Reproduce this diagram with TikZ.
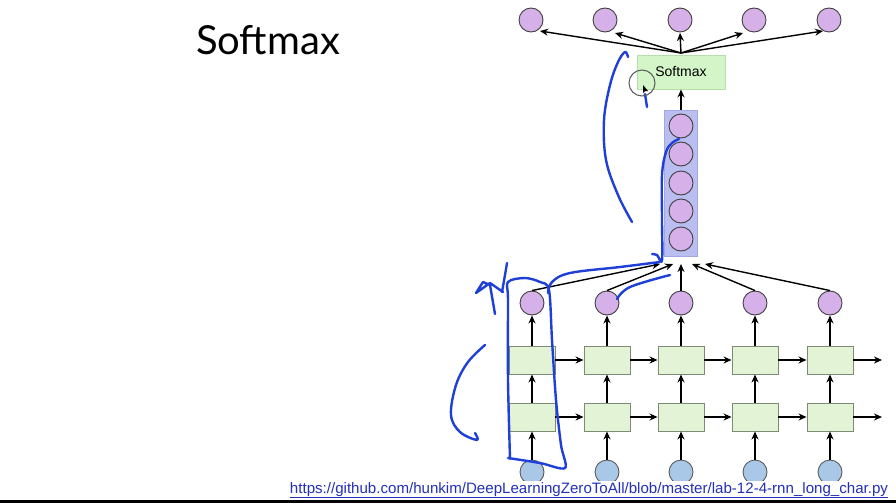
\documentclass[tikz,border=0pt]{standalone}
\usepackage{fontspec}
\setmainfont{Liberation Sans}
\newfontfamily\titlefont{Lato}
\usetikzlibrary{arrows.meta,calc}
\definecolor{purpleF}{HTML}{D6B0E8}
\definecolor{blueF}{HTML}{A9C8E8}
\definecolor{cellF}{HTML}{E3F3D6}
\definecolor{cellD}{HTML}{7D8A75}
\definecolor{smF}{HTML}{D3F5C8}
\definecolor{smD}{HTML}{B5E0AA}
\definecolor{barF}{HTML}{B9BDF0}
\definecolor{barD}{HTML}{A2A7E2}
\definecolor{inkblue}{HTML}{1E3FD8}
\definecolor{urlblue}{HTML}{2430B8}
\begin{document}
\begin{tikzpicture}[x=1pt,y=-1pt,
  outc/.style={circle,draw=black!75,fill=purpleF,minimum size=24pt,inner sep=0pt,line width=0.9pt},
  inc/.style={circle,draw=black!65,fill=blueF,minimum size=24pt,inner sep=0pt,line width=0.9pt},
  cell/.style={rectangle,draw=cellD,fill=cellF,minimum width=46pt,minimum height=28pt,inner sep=0pt,line width=0.9pt},
  smbox/.style={rectangle,draw=smD,fill=smF,minimum width=88pt,minimum height=34pt,inner sep=0pt,line width=0.8pt,font=\fontsize{14}{16}\selectfont},
  barbox/.style={rectangle,draw=barD,fill=barF,minimum width=33pt,minimum height=146pt,inner sep=0pt,line width=0.8pt},
  arr/.style={-{Stealth[length=8pt,width=7pt]},line width=1.4pt,black},
  ink/.style={draw=inkblue,line width=2.4pt,line cap=round,line join=round}]
\useasboundingbox (0,0) rectangle (896,503);
\fill[white] (0,0) rectangle (896,503);

% title
\node (title) at (268,40) {\titlefont\fontsize{40}{44}\selectfont Softmax};

% lower RNN
\foreach \i/\x in {1/532,2/607,3/681,4/755,5/830}{
  \node[inc] (in\i) at (\x,472) {};
  \node[cell] (b\i) at (\x,417) {};
  \node[cell] (t\i) at (\x,360) {};
  \node[outc] (o\i) at (\x,303) {};
  \draw[arr] (in\i) -- (b\i);
  \draw[arr] (b\i) -- (t\i);
  \draw[arr] (t\i) -- (o\i);
}
\foreach \i/\j in {1/2,2/3,3/4,4/5}{
  \draw[arr] (b\i) -- (b\j);
  \draw[arr] (t\i) -- (t\j);
}
\coordinate (eb) at (882,417);
\coordinate (et) at (882,360);
\draw[arr] (b5) -- (eb);
\draw[arr] (t5) -- (et);

% bar with stacked circles
\node[barbox] (bar) at (681,183) {};
\foreach \k/\y in {1/126,2/154,3/183,4/211,5/239}{
  \node[outc] (c\k) at (681,\y) {};
}
\foreach \i/\x in {1/660,2/673,3/681,4/692,5/705}{
  \coordinate (tip\i) at (\x,264);
  \draw[arr] (o\i.north) -- (tip\i);
}

% softmax box
\node[smbox] (sm) at (681,72) {Softmax};
\draw[arr] (bar.north) -- (sm.south);
\coordinate (smtop) at (681,53);
\foreach \i/\x/\tx/\ty in {1/531/540/31,2/605/615/33,3/680/680/33,4/754/743/33,5/829/823/31}{
  \node[outc] (u\i) at (\x,20) {};
  \coordinate (v\i) at (\tx,\ty);
  \draw[arr] (smtop) -- (v\i);
}

% URL
\fill[white] (280,481) rectangle (896,500);
\node[inner sep=0pt] (url) at (589,490) {\resizebox{598pt}{!}{\color{urlblue}\fontsize{14}{16}\selectfont https://github.com/hunkim/DeepLearningZeroToAll/blob/master/lab-12-4-rnn\_long\_char.py}};
\coordinate (ul1) at (290,497);
\coordinate (ul2) at (888,497);
\draw[urlblue,line width=1pt] (ul1) -- (ul2);
\fill[black] (0,500) rectangle (896,503);

% hand-drawn annotations
\draw[ink] plot[smooth,tension=0.6] coordinates {(632,222) (618,195) (606,160) (604,120) (610,85) (618,62) (625,52) (628,57)};
\draw[ink] (647,107) -- (645,94);
\draw[black!65,line width=1pt] (642,83) circle (13);
\fill[black] (643,85) -- (643,93) -- (645,91) -- (648,91) -- cycle;
\draw[ink] plot[smooth,tension=0.6] coordinates {(548,293) (552,282) (570,273) (620,267) (660,262)};
\draw[ink] plot[smooth,tension=0.6] coordinates {(652,254) (657,255) (662,260) (662,220) (662,175) (666,152) (672,143) (679,139)};
\draw[ink] plot[smooth,tension=0.6] coordinates {(617,299) (630,287) (670,275)};
\draw[ink] plot[smooth,tension=0.5] coordinates {(510,459) (508,380) (508,300) (508,282) (525,278) (540,282) (549,290) (552,340) (556,400) (561,445) (565,468) (540,463) (508,458)};
\draw[ink] (495,314) -- (490,285) -- (483,282) -- (476,293) -- (490,283) -- (503,292);
\draw[ink] plot[smooth,tension=0.5] coordinates {(507,263) (505,275) (502,292)};
\draw[ink] plot[smooth,tension=0.6] coordinates {(485,345) (468,362) (456,385) (451,415) (460,432) (477,440) (475,433)};
\end{tikzpicture}
\end{document}
